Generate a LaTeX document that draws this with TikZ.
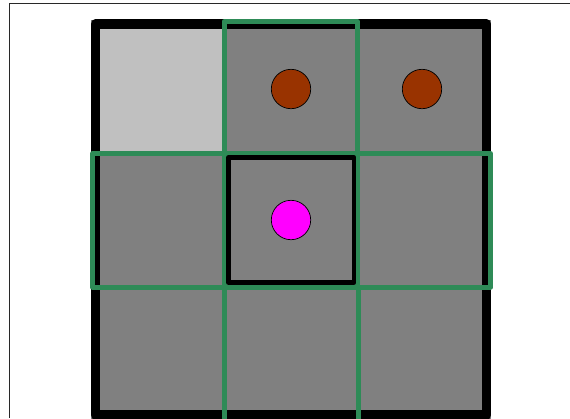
\documentclass[tikz,border=0pt]{standalone}
\usetikzlibrary{positioning}
\definecolor{cellgray}{RGB}{128,128,128}
\definecolor{lightcell}{RGB}{192,192,192}
\definecolor{seagreen}{RGB}{46,139,87}
\definecolor{piecebrown}{RGB}{153,51,0}
\definecolor{piecemagenta}{RGB}{255,0,255}
\definecolor{axisgray}{RGB}{40,40,40}
\tikzset{
  greencell/.style={draw=seagreen, line width=5pt, line join=round},
  boardframe/.style={draw=black, line width=9.5pt, line join=round},
  centercell/.style={draw=black, line width=4.5pt, line join=round},
  piece/.style={circle, draw=black, line width=0.7pt, minimum size=39.4pt, inner sep=0pt},
}
\begin{document}
\begin{tikzpicture}[x=1pt,y=-1pt]
\useasboundingbox (0,0) rectangle (570,418);
\clip (0,0) rectangle (570,418);
\fill[white] (0,0) rectangle (570,418);
% thin axes frame
\draw[axisgray, line width=1pt] (9.7,418) -- (9.7,3.7) -- (570,3.7);
% board fill
\fill[cellgray] (91,19.5) rectangle (491,419.5);
\fill[lightcell] (92,20.5) rectangle (225,153.5);
% black frame
\draw[boardframe] (95.5,24) rectangle (486.5,415);
% green neighbour cells
\draw[greencell] (224,21.5) rectangle (357.5,153.5);
\draw[greencell] (92.5,153.5) rectangle (224,287);
\draw[greencell] (357.5,153.5) rectangle (490.5,287);
\draw[greencell] (224,287) rectangle (358,421);
% center cell
\draw[centercell] (228.5,157.5) rectangle (354,282.5);
% pieces
\node[piece, fill=piecebrown] (p1) at (291,89) {};
\node[piece, fill=piecebrown] (p2) at (422,89) {};
\node[piece, fill=piecemagenta] (p3) at (291,220) {};
\end{tikzpicture}
\end{document}
